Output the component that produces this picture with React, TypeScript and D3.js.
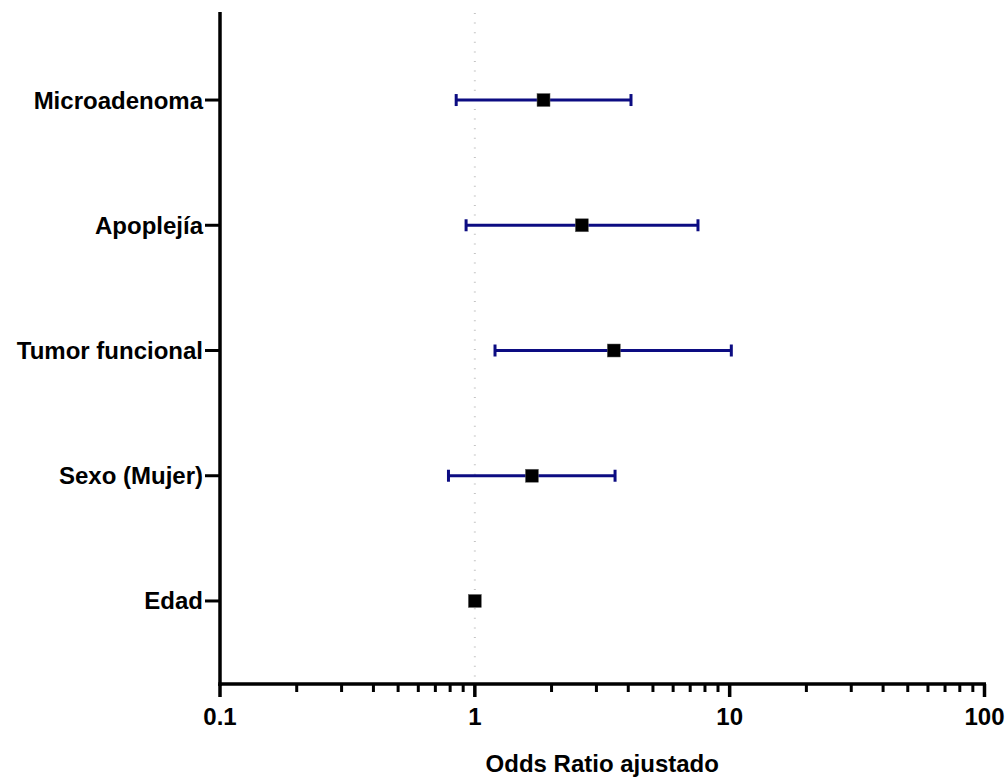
import React from "react";
import * as d3 from "d3";

const categories = ["Edad", "Sexo (Mujer)", "Tumor funcional", "Apoplejía", "Microadenoma"];
const oddsRatio = [1.0, 1.675, 3.51, 2.63, 1.86];
const ciLow = [null, 0.788, 1.2, 0.924, 0.845];
const ciHigh = [null, 3.55, 10.15, 7.51, 4.1];
const majorTicks = [0.1, 1, 10, 100];
const majorLabels = ["0.1", "1", "10", "100"];

const W = 1007;
const H = 778;
const FONT = "'Liberation Sans', Arial, Helvetica, sans-serif";

export default function App() {
  const x = d3.scaleLog().domain([0.1, 100]).range([220, 984.5]);
  const y = d3.scaleLinear().domain([-0.663, 4.695]).range([684, 13]);

  const minorTicks: number[] = [];
  [0.1, 1, 10].forEach((d) => {
    for (let k = 2; k <= 9; k++) minorTicks.push(d * k);
  });

  const navy = "#0c0c82";

  return (
    <svg width={W} height={H} style={{ position: "absolute", left: 0, top: 0 }}>
      <rect width={W} height={H} fill="#fff" />
      {/* reference line at OR = 1 */}
      <line
        x1={x(1)}
        x2={x(1)}
        y1={y(4.695)}
        y2={684}
        stroke="#c4c4c4"
        strokeWidth={2}
        strokeDasharray="1 8.6"
      />
      {/* error bars */}
      {categories.map((c, i) => {
        const lo = ciLow[i];
        const hi = ciHigh[i];
        if (lo == null || hi == null) return null;
        const yy = y(i);
        return (
          <g key={"eb" + c}>
            <line x1={x(lo)} x2={x(hi)} y1={yy} y2={yy} stroke={navy} strokeWidth={3} />
            <line x1={x(lo)} x2={x(lo)} y1={yy - 6} y2={yy + 6} stroke={navy} strokeWidth={3} />
            <line x1={x(hi)} x2={x(hi)} y1={yy - 6} y2={yy + 6} stroke={navy} strokeWidth={3} />
          </g>
        );
      })}
      {/* points */}
      {categories.map((c, i) => (
        <rect
          key={"pt" + c}
          x={x(oddsRatio[i]) - 6.5}
          y={y(i) - 6.5}
          width={13}
          height={13}
          fill="#000"
          stroke="#666"
          strokeWidth={0.5}
        />
      ))}
      {/* y axis */}
      <line x1={220} x2={220} y1={12} y2={686} stroke="#000" strokeWidth={3.5} />
      {categories.map((c, i) => (
        <g key={"yt" + c}>
          <line x1={205} x2={220} y1={y(i)} y2={y(i)} stroke="#000" strokeWidth={3} />
          <text
            x={203}
            y={y(i) + 8.5}
            textAnchor="end"
            fontFamily={FONT}
            fontWeight="bold"
            fontSize={24}
            fill="#000"
          >
            {c}
          </text>
        </g>
      ))}
      {/* x axis */}
      <line x1={218.25} x2={986} y1={684} y2={684} stroke="#000" strokeWidth={3.5} />
      {minorTicks.map((t) => (
        <line key={"mn" + t} x1={x(t)} x2={x(t)} y1={684} y2={692} stroke="#000" strokeWidth={3} />
      ))}
      {majorTicks.map((t, i) => (
        <g key={"mj" + t}>
          <line x1={x(t)} x2={x(t)} y1={684} y2={697} stroke="#000" strokeWidth={3.5} />
          <text
            x={x(t)}
            y={725}
            textAnchor="middle"
            fontFamily={FONT}
            fontWeight="bold"
            fontSize={24}
            fill="#000"
          >
            {majorLabels[i]}
          </text>
        </g>
      ))}
      <text
        x={(220 + 984.5) / 2}
        y={772}
        textAnchor="middle"
        fontFamily={FONT}
        fontWeight="bold"
        fontSize={24}
        fill="#000"
      >
        Odds Ratio ajustado
      </text>
    </svg>
  );
}
